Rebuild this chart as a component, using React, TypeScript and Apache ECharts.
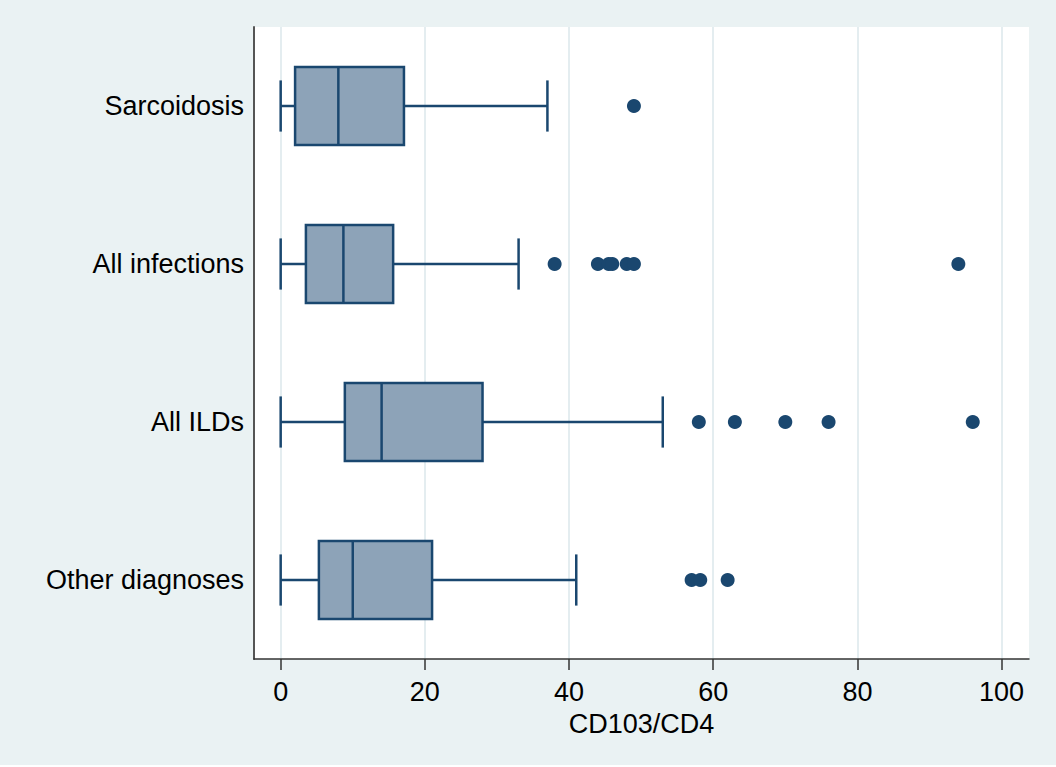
import React, { useEffect, useRef } from "react";
import * as echarts from "echarts";

const categories = ["Sarcoidosis", "All infections", "All ILDs", "Other diagnoses"];
const whiskerLow = [0, 0, 0, 0];
const quartile1 = [2, 3.5, 8.9, 5.3];
const medians = [8, 8.7, 14, 10];
const quartile3 = [17.1, 15.6, 28, 21];
const whiskerHigh = [37, 33, 53, 41];
const outliers: number[][] = [
  [49],
  [38, 44, 45.5, 46, 48, 49, 94],
  [58, 63, 70, 76, 96],
  [57, 58.2, 62],
];
const xTicks = [0, 20, 40, 60, 80, 100];
const xTitle = "CD103/CD4";

const NAVY = "#1A476F";
const FONT = "Liberation Sans, Arial, sans-serif";
const FS = 27;

export default function App() {
  const ref = useRef<HTMLDivElement>(null);
  useEffect(() => {
    if (!ref.current) return;
    const chart = echarts.init(ref.current, null, { renderer: "svg" });
    const boxData = categories.map((_, i) => [
      i,
      whiskerLow[i],
      quartile1[i],
      medians[i],
      quartile3[i],
      whiskerHigh[i],
    ]);
    const outlierData: number[][] = [];
    outliers.forEach((arr, i) => arr.forEach((v) => outlierData.push([v, i])));

    chart.setOption({
      animation: false,
      backgroundColor: "#EAF2F3",
      grid: {
        left: 254,
        right: 27,
        top: 27,
        bottom: 106,
        show: true,
        backgroundColor: "#FFFFFF",
        borderWidth: 0,
      },
      xAxis: {
        type: "value",
        min: -3.7,
        max: 103.8,
        name: xTitle,
        nameLocation: "middle",
        nameGap: 44,
        nameTextStyle: { fontSize: FS, color: "#000", fontFamily: FONT, lineHeight: 26 },
        axisLine: { show: true, onZero: false, lineStyle: { color: "#333", width: 1.5 } },
        axisTick: { show: true, length: 11, customValues: xTicks, lineStyle: { color: "#333", width: 1.5 } },
        axisLabel: {
          customValues: xTicks,
          fontSize: FS,
          lineHeight: 26,
          color: "#000",
          fontFamily: FONT,
          margin: 20,
        },
        splitLine: { show: true, lineStyle: { color: "#E4EDF0", width: 2 } },
      },
      yAxis: {
        type: "category",
        data: categories,
        inverse: true,
        axisLine: { show: true, onZero: false, lineStyle: { color: "#555", width: 2 } },
        axisTick: { show: false },
        splitLine: { show: false },
        axisLabel: { fontSize: FS, color: "#000", fontFamily: FONT, margin: 10 },
      },
      series: [
        {
          type: "custom",
          z: 2,
          data: boxData,
          encode: { x: [1, 2, 3, 4, 5], y: 0 },
          renderItem: (params: any, api: any) => {
            const cat = api.value(0);
            const pMin = api.coord([api.value(1), cat]);
            const pQ1 = api.coord([api.value(2), cat]);
            const pMed = api.coord([api.value(3), cat]);
            const pQ3 = api.coord([api.value(4), cat]);
            const pMax = api.coord([api.value(5), cat]);
            const band = api.size([0, 1])[1];
            const half = band * 0.247;
            const capHalf = band * 0.162;
            const y = pMed[1];
            const ls = { stroke: NAVY, lineWidth: 2.5, fill: null };
            return {
              type: "group",
              children: [
                { type: "line", shape: { x1: pMin[0], y1: y, x2: pQ1[0], y2: y }, style: ls },
                { type: "line", shape: { x1: pQ3[0], y1: y, x2: pMax[0], y2: y }, style: ls },
                { type: "line", shape: { x1: pMin[0], y1: y - capHalf, x2: pMin[0], y2: y + capHalf }, style: ls },
                { type: "line", shape: { x1: pMax[0], y1: y - capHalf, x2: pMax[0], y2: y + capHalf }, style: ls },
                {
                  type: "rect",
                  shape: { x: pQ1[0], y: y - half, width: pQ3[0] - pQ1[0], height: half * 2 },
                  style: { fill: "#8DA3B8", stroke: NAVY, lineWidth: 2.5 },
                },
                { type: "line", shape: { x1: pMed[0], y1: y - half, x2: pMed[0], y2: y + half }, style: ls },
              ],
            };
          },
        },
        {
          type: "scatter",
          z: 3,
          data: outlierData,
          symbol: "circle",
          symbolSize: 14,
          itemStyle: { color: NAVY, opacity: 1 },
        },
      ],
    });
    return () => chart.dispose();
  }, []);
  return (
    <div
      ref={ref}
      style={{ position: "absolute", left: 0, top: 0, width: 1056, height: 765 }}
    />
  );
}
